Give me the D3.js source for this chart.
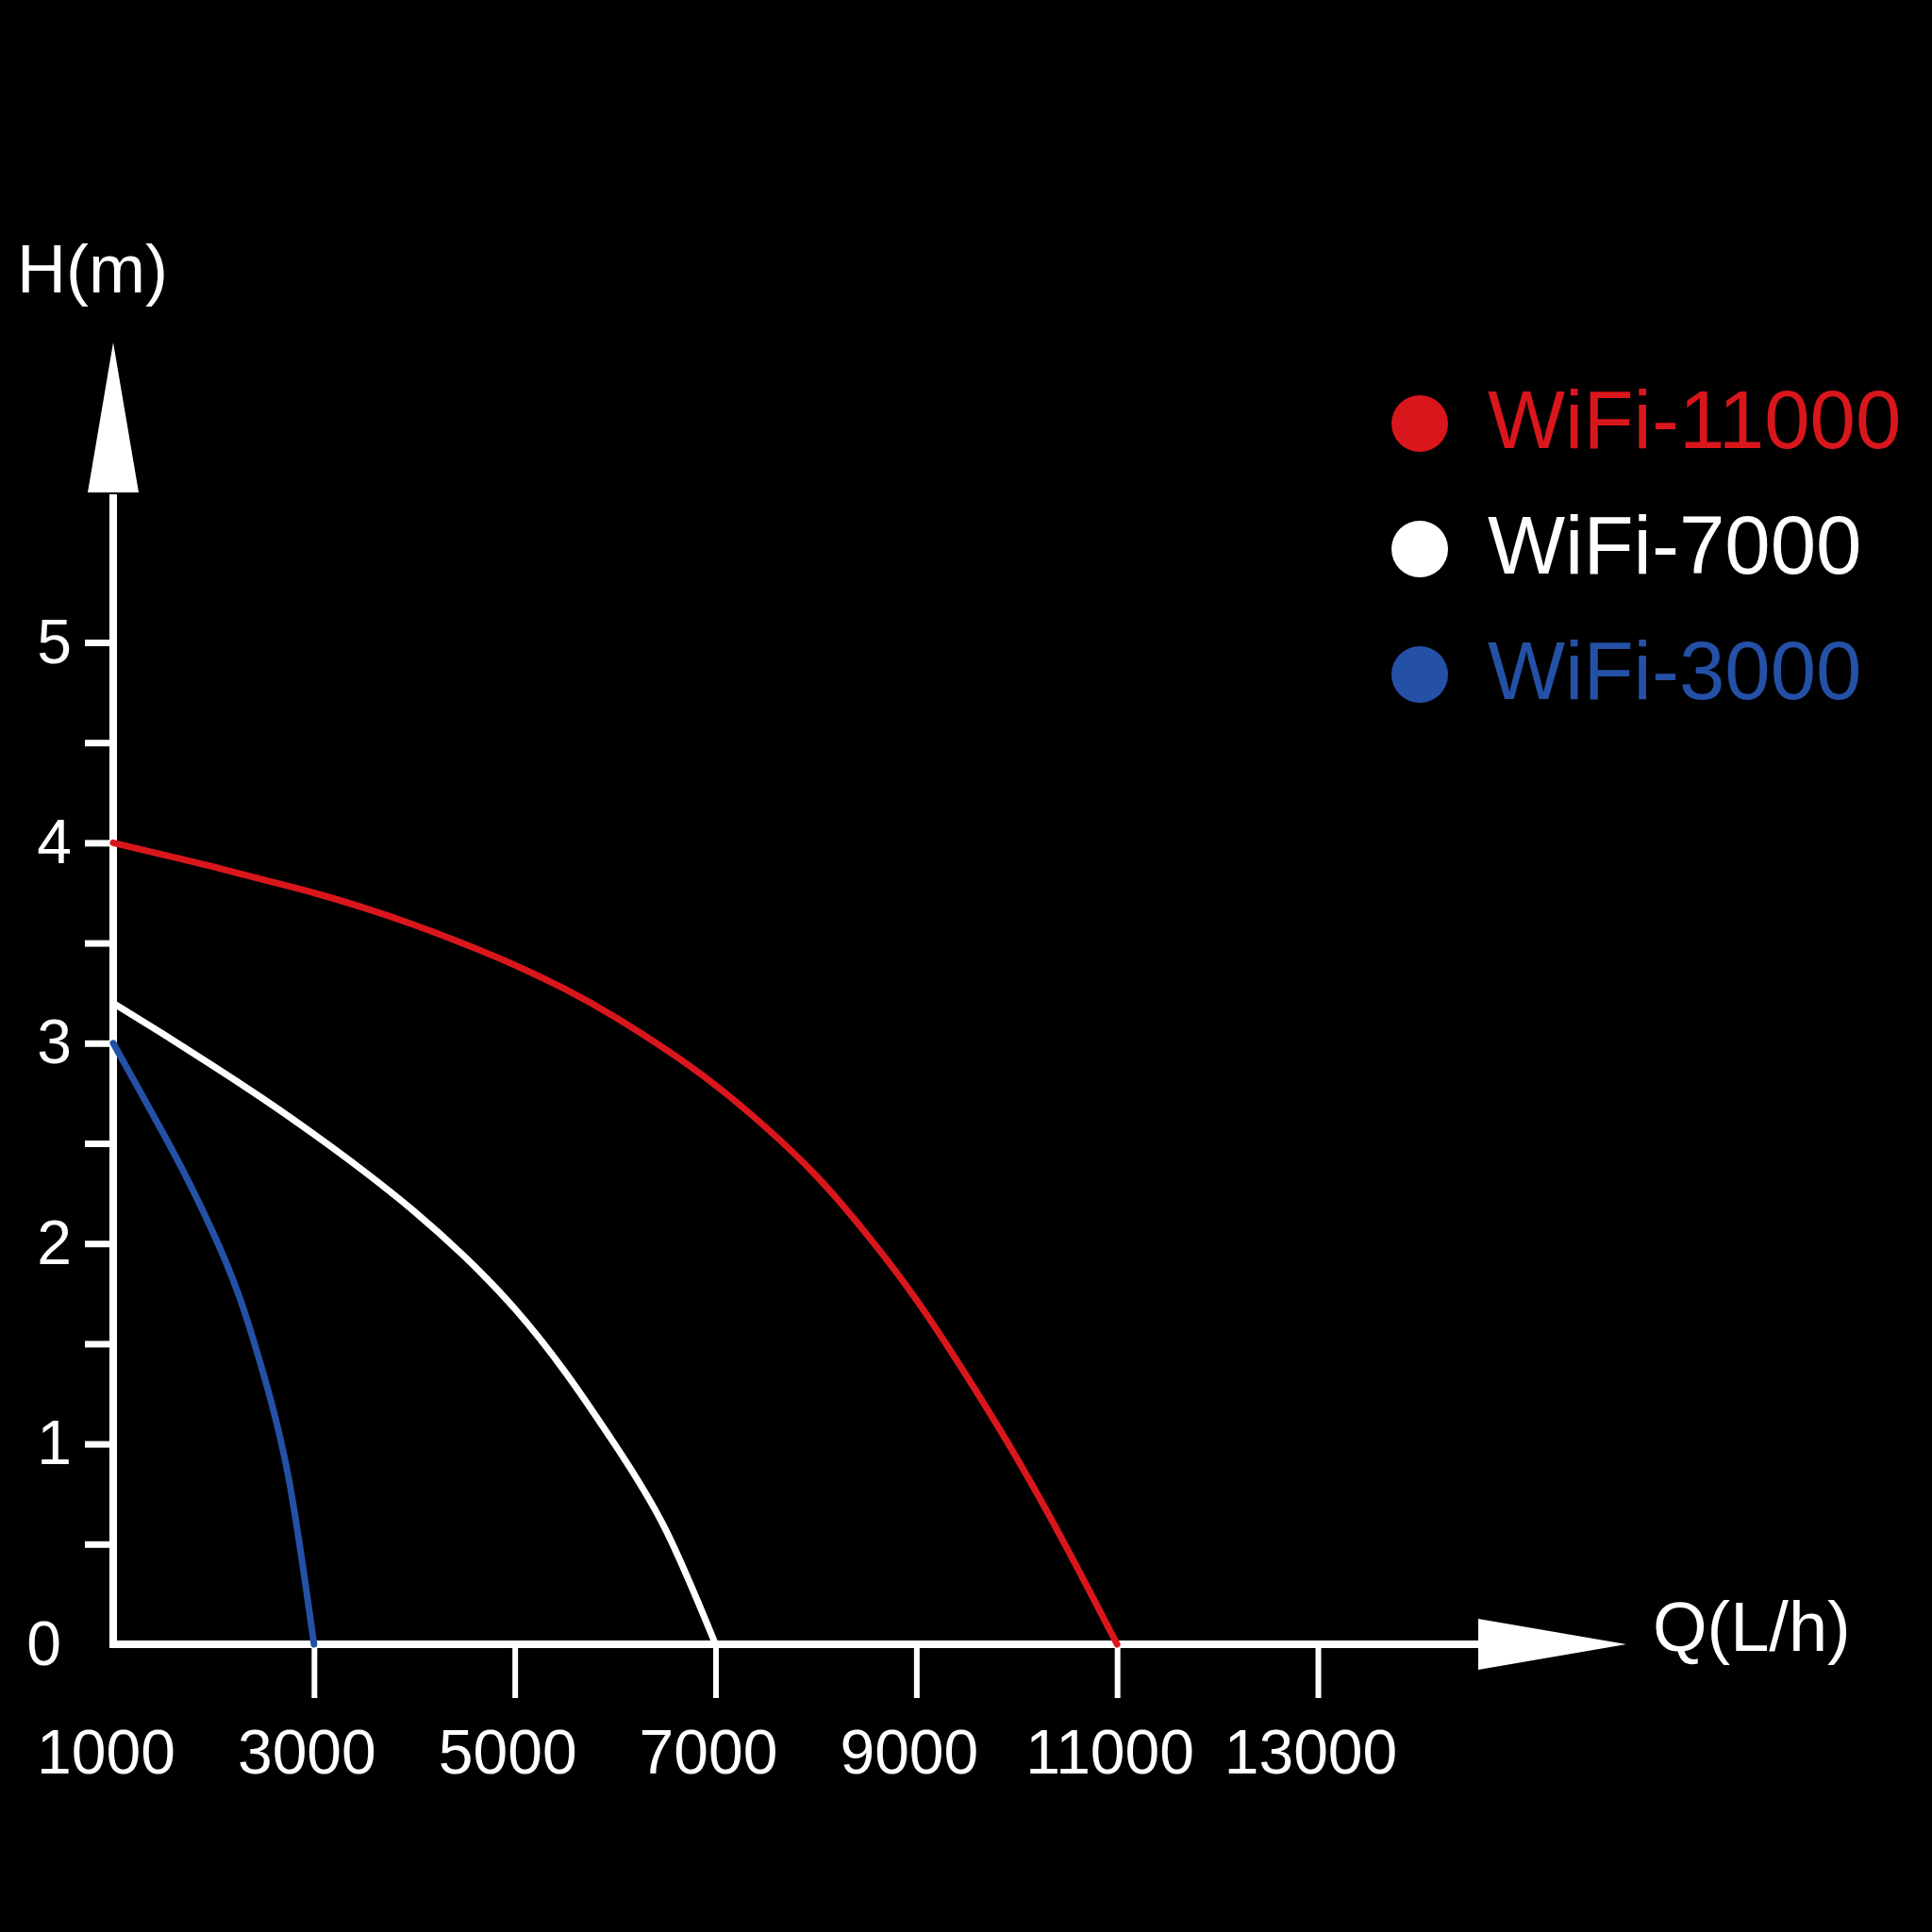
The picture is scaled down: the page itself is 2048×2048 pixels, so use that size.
<!DOCTYPE html>
<html>
<head>
<meta charset="utf-8">
<script src="https://cdn.jsdelivr.net/npm/d3@7/dist/d3.min.js"></script>
<style>
  html, body { margin: 0; padding: 0; background: #000; }
  svg { display: block; }
  text { font-family: "Liberation Sans", Arial, Helvetica, sans-serif; }
</style>
</head>
<body>
<script>
// ---------- data ----------
const flowTicks = [1000, 3000, 5000, 7000, 9000, 11000, 13000];
const headTicks = [0, 0.5, 1, 1.5, 2, 2.5, 3, 3.5, 4, 4.5, 5];
const headLabels = [0, 1, 2, 3, 4, 5];

const seriesNames = ["WiFi-11000", "WiFi-7000", "WiFi-3000"];
const seriesColors = ["#d9161c", "#ffffff", "#2451a6"];

const flow11000 = [1000, 1500, 2000, 2500, 3000, 3500, 4000, 4500, 5000, 5500, 6000,
                   6500, 7000, 7500, 8000, 8500, 9000, 9500, 10000, 10500, 11000];
const head11000 = [4.00, 3.94, 3.88, 3.815, 3.75, 3.675, 3.59, 3.495, 3.39, 3.27, 3.13,
                   2.97, 2.79, 2.58, 2.34, 2.05, 1.72, 1.34, 0.93, 0.48, 0];

const flow7000 = [1000, 1500, 2000, 2500, 3000, 3500, 4000, 4500, 5000, 5500, 6000, 6500, 7000];
const head7000 = [3.2, 3.045, 2.885, 2.72, 2.545, 2.36, 2.16, 1.935, 1.675, 1.36, 0.995, 0.575, 0];

const flow3000 = [1000, 1250, 1500, 1750, 2000, 2250, 2500, 2750, 3000];
const head3000 = [3.0, 2.775, 2.548, 2.31, 2.048, 1.743, 1.343, 0.823, 0];

const seriesFlows = [flow11000, flow7000, flow3000];
const seriesHeads = [head11000, head7000, head3000];

// ---------- layout ----------
const W = 2048, H = 2048;
const svg = d3.select("body").append("svg").attr("width", W).attr("height", H);
svg.append("rect").attr("width", W).attr("height", H).attr("fill", "#000");

const x = d3.scaleLinear().domain([1000, 13000]).range([120, 1397]);
const y = d3.scaleLinear().domain([0, 5]).range([1743, 681]);

const x0 = x(1000), y0 = y(0);
const axisColor = "#ffffff";

// x axis ticks + labels
const xAxis = d3.axisBottom(x).tickValues(flowTicks).tickSize(57).tickFormat(d3.format("d"));
const gx = svg.append("g").attr("transform", `translate(0,${y0})`).call(xAxis);
gx.select(".domain").remove();
gx.selectAll(".tick line").attr("stroke", axisColor).attr("stroke-width", 6)
  .filter(d => d === 1000).remove();
gx.selectAll(".tick text")
  .attr("fill", axisColor).attr("font-size", 66)
  .attr("y", 137).attr("dy", 0).attr("dx", -8);

// y axis ticks + labels
const yAxis = d3.axisLeft(y).tickValues(headTicks).tickSize(30).tickPadding(14)
  .tickFormat(d => headLabels.includes(d) ? d3.format("d")(d) : "");
const gy = svg.append("g").attr("transform", `translate(${x0},0)`).call(yAxis);
gy.select(".domain").remove();
gy.selectAll(".tick line").attr("stroke", axisColor).attr("stroke-width", 7)
  .filter(d => d === 0).remove();
gy.selectAll(".tick text").attr("fill", axisColor).attr("font-size", 66)
  .attr("dy", "0.32em");
gy.selectAll(".tick text").filter(d => d === 0).attr("dx", -11);

// axis lines with arrow heads
const yArrowBase = 522, yArrowTip = 363, arrowHalf = 27;
const xArrowBase = 1567, xArrowTip = 1724;
svg.append("line").attr("x1", x0).attr("x2", x0).attr("y1", y0 + 4).attr("y2", yArrowBase + 2)
  .attr("stroke", axisColor).attr("stroke-width", 8);
svg.append("line").attr("x1", x0 - 4).attr("x2", xArrowBase + 2).attr("y1", y0).attr("y2", y0)
  .attr("stroke", axisColor).attr("stroke-width", 8);
svg.append("path")
  .attr("d", `M${x0},${yArrowTip} L${x0 + arrowHalf},${yArrowBase} L${x0 - arrowHalf},${yArrowBase} Z`)
  .attr("fill", axisColor);
svg.append("path")
  .attr("d", `M${xArrowTip},${y0} L${xArrowBase},${y0 - arrowHalf} L${xArrowBase},${y0 + arrowHalf} Z`)
  .attr("fill", axisColor);

// axis titles
svg.append("text").attr("x", 18).attr("y", 310).attr("fill", axisColor)
  .attr("font-size", 72).text("H(m)");
svg.append("text").attr("x", 1752).attr("y", 1750).attr("fill", axisColor)
  .attr("font-size", 74).text("Q(L/h)");

// curves
const line = d3.line().x(d => x(d[0])).y(d => y(d[1])).curve(d3.curveNatural);
seriesNames.forEach((name, i) => {
  const pts = seriesFlows[i].map((q, j) => [q, seriesHeads[i][j]]);
  svg.append("path").datum(pts).attr("d", line)
    .attr("fill", "none").attr("stroke", seriesColors[i])
    .attr("stroke-width", 7).attr("stroke-linecap", "round").attr("stroke-linejoin", "round");
});

// legend
const lg = svg.append("g");
seriesNames.forEach((name, i) => {
  const cy = 449 + i * 133;
  lg.append("circle").attr("cx", 1505).attr("cy", cy).attr("r", 30).attr("fill", seriesColors[i]);
  lg.append("text").attr("x", 1577).attr("y", cy + 26).attr("fill", seriesColors[i])
    .attr("font-size", 87).text(name);
});
</script>
</body>
</html>
